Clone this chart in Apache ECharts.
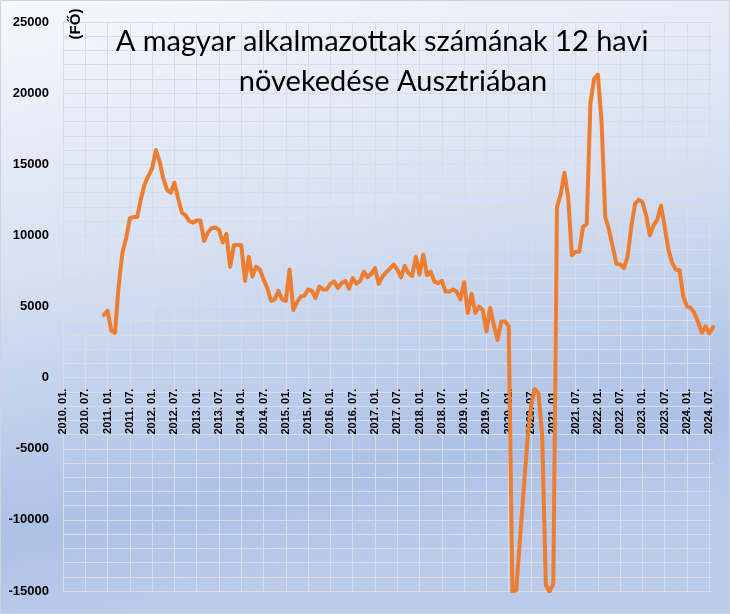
<!DOCTYPE html>
<html>
<head>
<meta charset="utf-8">
<script src="https://cdn.jsdelivr.net/npm/echarts@6/dist/echarts.min.js"></script>
<style>
html,body{margin:0;padding:0;background:#fff;}
#c{width:730px;height:614px;}
</style>
</head>
<body>
<div id="c"></div>
<script>
// Title and axis texts
const titleLines = ['A magyar alkalmazottak számának 12 havi', 'növekedése Ausztriában'];
const unitText = '(FŐ)';
const years = [2010,2011,2012,2013,2014,2015,2016,2017,2018,2019,2020,2021,2022,2023,2024];
const monthNames = ['01','02','03','04','05','06','07','08','09','10','11','12'];
const lastMonthIndex2024 = 8; // data through 2024.08
const yTicks = [-15000,-10000,-5000,0,5000,10000,15000,20000,25000];

// 12-month change of Hungarian employees in Austria (persons), monthly from 2010.01
const growth = [
  null,null,null,null,null,null,null,null,null,null,null,4400,     // 2010
  4700,3300,3150,6500,8800,9800,11200,11300,11300,12600,13600,14200, // 2011
  14700,16000,15200,14000,13200,13000,13700,12600,11600,11400,11000,10900, // 2012
  11050,11050,9600,10200,10500,10550,10400,9500,10100,7800,9300,9350, // 2013
  9300,6800,8500,7100,7800,7600,6900,6300,5400,5500,6100,5500,       // 2014
  5400,7600,4750,5300,5700,5750,6200,6100,5600,6400,6200,6200,       // 2015
  6600,6750,6300,6650,6800,6250,7000,6600,6800,7450,7050,7300,       // 2016
  7700,6600,7100,7400,7650,7950,7600,7050,7850,7350,7150,8500,       // 2017
  7250,8650,7200,7450,6750,6650,6800,6050,6050,6200,6050,5500,       // 2018
  6700,4550,5900,4550,5000,4750,3250,4900,3700,2650,3950,3950,       // 2019
  3600,-15100,-14950,-11500,-8000,-4500,-2000,-800,-1100,-4000,-14600,-15050, // 2020
  -14500,12000,12900,14400,12700,8600,8850,8850,10600,10800,19300,21000, // 2021
  21300,18000,11300,10400,9200,8000,7950,7700,8500,10600,12200,12500, // 2022
  12350,11400,10000,10700,11100,12100,10600,9000,8050,7600,7550,5700, // 2023
  5000,4900,4550,3900,3150,3600,3100,3550                           // 2024
];

const months = [];
years.forEach(y => {
  const n = y === 2024 ? lastMonthIndex2024 : 12;
  for (let m = 0; m < n; m++) months.push(y + '. ' + monthNames[m] + '.');
});

const W = 730, H = 614;
const gridLeft = 63, gridRight = 17, gridTop = 22, gridBottom = 23;
const yMin = yTicks[0], yMax = yTicks[yTicks.length - 1];
// place the category axis on the zero line
const plotH = H - gridTop - gridBottom;
const zeroOffset = -plotH * (0 - yMin) / (yMax - yMin);

const gridColor = '#d8dce4';
const titleFont = '29px Lato';
const chart = echarts.init(document.getElementById('c'), null, {renderer: 'canvas'});
chart.setOption({
  animation: false,
  backgroundColor: {
    type: 'linear', x: 0, y: 0, x2: 0.15, y2: 1,
    colorStops: [
      {offset: 0, color: '#f6f8fc'},
      {offset: 0.45, color: '#d6e0f2'},
      {offset: 0.85, color: '#adc1e6'},
      {offset: 1, color: '#bccbea'}
    ]
  },
  graphic: [
    {type: 'text', x: 382, y: 42, z: 10,
     style: {text: titleLines[0], font: titleFont, fill: '#000', textAlign: 'center', textVerticalAlign: 'middle'}},
    {type: 'text', x: 393, y: 82, z: 10,
     style: {text: titleLines[1], font: titleFont, fill: '#000', textAlign: 'center', textVerticalAlign: 'middle'}},
    {type: 'text', x: 76, y: 24, rotation: Math.PI / 2, z: 10,
     style: {text: unitText, font: 'bold 15px "Liberation Sans"', fill: '#000', textAlign: 'center', textVerticalAlign: 'middle'}},
    {type: 'rect', shape: {x: 0.5, y: 0.5, width: 729, height: 613}, z: 10,
     style: {fill: 'none', stroke: '#cfd3da', lineWidth: 1}}
  ],
  grid: {left: gridLeft, right: gridRight, top: gridTop, bottom: gridBottom, containLabel: false, outerBoundsMode: 'none'},
  xAxis: {
    type: 'category',
    data: months,
    boundaryGap: false,
    position: 'bottom',
    offset: zeroOffset,
    z: 0,
    axisLine: {show: true, onZero: false, lineStyle: {color: gridColor, width: 1}},
    axisTick: {show: false},
    axisLabel: {
      interval: 5, rotate: 90, margin: 11,
      fontFamily: 'Liberation Sans', fontWeight: 'bold', fontSize: 11, color: '#000'
    },
    splitLine: {show: true, interval: 5, lineStyle: {color: gridColor, width: 1}}
  },
  yAxis: {
    type: 'value',
    min: yMin, max: yMax, interval: 5000,
    axisLine: {show: false},
    axisTick: {show: false},
    axisLabel: {margin: 14, fontFamily: 'Liberation Sans', fontWeight: 'bold', fontSize: 13, color: '#000',
      formatter: v => String(v)},
    splitLine: {show: true, lineStyle: {color: gridColor, width: 1}},
    minorTick: {show: false, splitNumber: 5},
    minorSplitLine: {show: true, lineStyle: {color: gridColor, width: 1}}
  },
  series: [{
    type: 'line',
    data: growth,
    showSymbol: false,
    symbol: 'none',
    connectNulls: false,
    clip: true,
    zlevel: 1,
    z: 5,
    lineStyle: {color: '#ED7D31', width: 4, join: 'round', cap: 'round'},
    itemStyle: {color: '#ED7D31'}
  }]
});
</script>
</body>
</html>
